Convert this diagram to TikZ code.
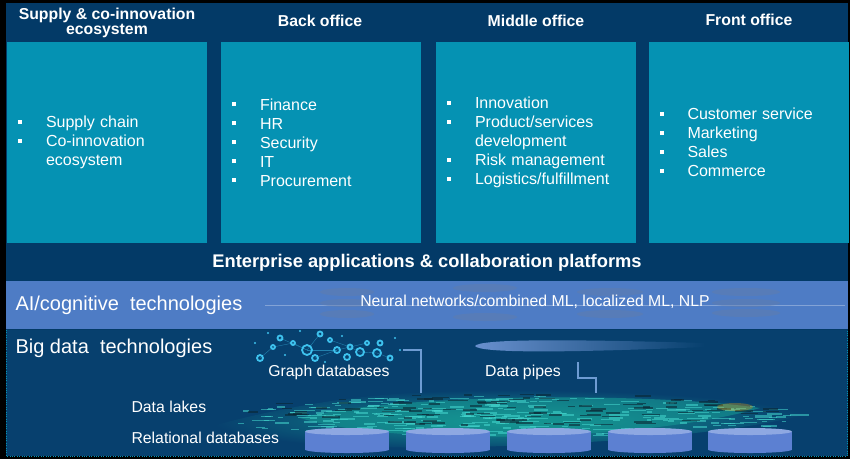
\documentclass[tikz,border=0pt]{standalone}
\usepackage{fontspec}
\setmainfont{Liberation Sans}
\usetikzlibrary{positioning}

\definecolor{navy}{HTML}{033A67}
\definecolor{boxteal}{HTML}{0592B3}
\definecolor{aiblue}{HTML}{4E7CC5}
\definecolor{bdnavy}{HTML}{07406E}
\definecolor{pipeblue}{HTML}{6E9CD3}
\definecolor{cylblue}{HTML}{5C80D2}
\definecolor{cyltop}{HTML}{8EA8E2}
\definecolor{lakegreen}{HTML}{169793}
\definecolor{lakestreak}{HTML}{45D8D0}
\definecolor{lakedark}{HTML}{0A2633}
\definecolor{netcyan}{HTML}{3EC2EE}

\newcommand{\itm}[1]{\makebox[28pt][l]{\rule[4pt]{4pt}{4pt}}#1\\}
\newcommand{\cont}[1]{\hspace*{28pt}#1\\}

\tikzset{
  officebox/.style={fill=boxteal, minimum width=200pt, minimum height=201pt, text width=178pt, inner xsep=11pt, align=left, text=white, font=\fontsize{16}{19}\selectfont},
  headtxt/.style={text=white, font=\bfseries\fontsize{15.8}{15}\selectfont, align=center},
  bandtxt/.style={text=white, font=\fontsize{20}{22}\selectfont, anchor=west},
  datatxt/.style={text=white, font=\fontsize{15.8}{17}\selectfont},
  pipe/.style={draw=pipeblue, line width=2.6pt},
  aiblob/.style={fill=gray!40!aiblue, opacity=0.45},
}

\begin{document}
\begin{tikzpicture}[x=1pt, y=-1pt]
    \fill[black] (0,0) rectangle (850,459);
    \fill[navy] (6,3) rectangle (848,456);
    \fill[aiblue] (6,281) rectangle (848,329);
    \fill[bdnavy] (6,330) rectangle (848,456);
    \draw[boxteal, dotted] (6,330) -- (6,456) -- (847,456) -- (847,330);

    \node[officebox] (supply) at (107,142.5) {\itm{Supply chain}\itm{Co-innovation}\cont{ecosystem}};
    \node[officebox] (back) at (321,142.5) {\itm{Finance}\itm{HR}\itm{Security}\itm{IT}\itm{Procurement}};
    \node[officebox] (middle) at (536,142.5) {\itm{Innovation}\itm{Product/services}\cont{development}\itm{Risk management}\itm{Logistics/fulfillment}};
    \node[officebox, minimum width=199pt] (front) at (748.5,142.5) {\itm{Customer service}\itm{Marketing}\itm{Sales}\itm{Commerce}};

    \node[headtxt] (supplyhead) at (107,23) {Supply \& co-innovation\\ecosystem};
    \node[headtxt] (backhead) at (320,21) {Back office};
    \node[headtxt] (middlehead) at (536,21) {Middle office};
    \node[headtxt] (fronthead) at (749,20) {Front office};

    \node[headtxt, font=\bfseries\fontsize{18.3}{20}\selectfont] (enterprise) at (427,263) {Enterprise applications \& collaboration platforms};

    \draw[white!60!aiblue, opacity=0.5] (265,305) -- (845,305);
    \foreach \ex/\ey/\er in {347/292/27, 347/303/27, 347/314/27, 485/288/32, 485/317/32, 610/292/33, 610/314/33, 746/292/34, 746/303/34, 746/313/34}
        \fill[aiblob] (\ex,\ey) ellipse (\er pt and 4pt);
    \node[bandtxt] (ai) at (12,305) {AI/cognitive\ \ technologies};
    \node[text=white, font=\fontsize{15.8}{17}\selectfont] (neural) at (535,302) {Neural networks/combined ML, localized ML, NLP};

    \node[bandtxt] (bigdata) at (12,348) {Big data\ \ technologies};

    \shade[inner color=lakegreen, outer color=bdnavy] (212,426) .. controls (330,394) and (420,390) .. (512,390) .. controls (650,390) and (760,398) .. (815,412) .. controls (720,440) and (480,452) .. (330,446) .. controls (280,442) and (240,436) .. cycle;
    \fill[lakegreen, opacity=0.6] (300,418) .. controls (400,393) and (650,392) .. (760,408) .. controls (650,440) and (400,448) .. cycle;
    \pgfmathsetseed{11}
    \foreach \i in {1,...,320} {
        \pgfmathsetmacro\ang{360*rnd}
        \pgfmathsetmacro\rr{sqrt(rnd)}
        \pgfmathsetmacro\len{4+16*rnd}
        \pgfmathsetmacro\sx{505+290*\rr*cos(\ang)}
        \pgfmathsetmacro\sy{417+21*\rr*sin(\ang)}
        \draw[lakestreak, opacity=0.55, line width=1.3pt] (\sx,\sy) -- ++(\len,0);
    }
    \foreach \i in {1,...,110} {
        \pgfmathsetmacro\ang{360*rnd}
        \pgfmathsetmacro\rr{sqrt(rnd)}
        \pgfmathsetmacro\len{6+14*rnd}
        \pgfmathsetmacro\sx{505+260*\rr*cos(\ang)}
        \pgfmathsetmacro\sy{410+16*\rr*sin(\ang)}
        \draw[lakedark, opacity=0.6, line width=1.5pt] (\sx,\sy) -- ++(\len,0);
    }
    \fill[orange!70!yellow, opacity=0.3] (735,407) ellipse (18pt and 4pt);

    \shade[left color=white!15!aiblue, right color=bdnavy] (475,346) .. controls (480,339) and (560,339) .. (705,343) -- (705,347) .. controls (560,353) and (480,353) .. cycle;

    \foreach \ax/\ay/\bx/\by in {260/358/273/347, 273/347/293/343, 293/343/307/350, 280/338/307/350, 307/350/320/334, 307/350/337/350, 337/350/350/347, 350/347/367/343, 350/347/360/352, 360/352/377/353, 330/340/350/347, 377/353/390/358, 315/358/337/350}
        \draw[netcyan!50!bdnavy, thin] (\ax,\ay) -- (\bx,\by);
    \foreach \nx/\ny/\nr in {260/358/3, 280/338/2.5, 307/350/5, 320/334/2.5, 315/358/3, 337/350/3, 347/357/3, 350/347/2.5, 360/352/4, 377/353/4, 380/343/2.5, 390/358/2.5, 273/347/2, 293/343/2, 330/340/2, 367/343/2}
        \draw[netcyan, line width=1.8pt] (\nx,\ny) circle (\nr pt);
    \foreach \dx/\dy in {255/343, 268/333, 300/331, 342/336, 395/338, 400/350, 285/355, 325/362}
        \fill[netcyan] (\dx,\dy) circle (1.2pt);

    \node[datatxt] (graph) at (329,372) {Graph databases};
    \node[datatxt] (pipes) at (523,372) {Data pipes};
    \node[datatxt, anchor=west] (lakes) at (128,407) {Data lakes};
    \node[datatxt, anchor=west] (relational) at (128,438) {Relational databases};

    \coordinate (pipeA) at (403,350);
    \coordinate (pipeAend) at (421,393);
    \coordinate (pipeB) at (578,362);
    \coordinate (pipeBend) at (596,393);
    \draw[pipe] (pipeA) -| (pipeAend);
    \draw[pipe] (pipeB) -- ++(0,16) -| (pipeBend);

    \foreach \cx in {347,448,549,650,750} {
        \fill[cylblue] (\cx-42,431.5) rectangle (\cx+42,449.5);
        \fill[cylblue] (\cx,449.5) ellipse (42pt and 3.5pt);
        \fill[cyltop] (\cx,431.5) ellipse (42pt and 3.5pt);
    }
\end{tikzpicture}
\end{document}
